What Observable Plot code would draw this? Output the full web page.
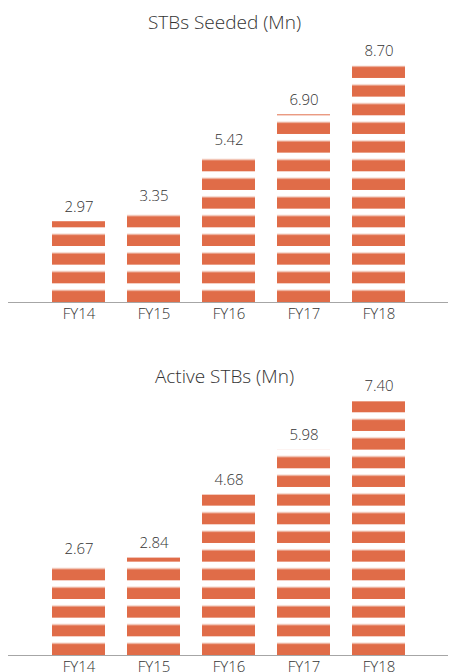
<!DOCTYPE html>
<html>
<head>
<meta charset="utf-8">
<script src="https://cdn.jsdelivr.net/npm/d3@7"></script>
<script src="https://cdn.jsdelivr.net/npm/@observablehq/plot@0.6"></script>
<style>
  html, body { margin: 0; padding: 0; background: #fff; overflow: hidden; }
  #wrap { position: relative; width: 449px; height: 672px; }
  .panel { position: absolute; left: 0; }
  .title { position: absolute; left: 0; width: 449px; text-align: center;
           font-family: "Open Sans", "Noto Sans", sans-serif; font-weight: 350; font-size: 19px; line-height: 20px;
           color: #333333; z-index: 2; }
</style>
</head>
<body>
<div id="wrap"></div>
<script>
const years = ["FY14", "FY15", "FY16", "FY17", "FY18"];
const seeded = [2.97, 3.35, 5.42, 6.90, 8.70];
const active = [2.67, 2.84, 4.68, 5.98, 7.40];
const titles = ["STBs Seeded (Mn)", "Active STBs (Mn)"];

const BAR = "#e06c48";
const TEXT = "#333333";

function panel(values, id, opts) {
  const data = years.map((y, i) => ({year: y, value: values[i]}));
  const chart = Plot.plot({
    width: 449,
    height: opts.height,
    marginLeft: 8,
    marginRight: 1,
    marginTop: opts.marginTop,
    marginBottom: opts.marginBottom,
    style: {fontFamily: "Open Sans, Noto Sans, sans-serif", fontWeight: 350, background: "transparent", overflow: "visible"},
    x: {domain: years, paddingInner: 0.3, paddingOuter: 0.564, label: null},
    y: {domain: [0, opts.ymax], axis: null},
    marks: [
      Plot.barY(data, {x: "year", y: "value", fill: `url(#${id})`}),
      Plot.ruleY([0], {stroke: "#a6a6a6", strokeWidth: 1}),
      Plot.text(data, {x: "year", y: "value", text: d => d.value.toFixed(2), dy: -15,
                       fill: TEXT, fontSize: 15, lineAnchor: "middle"}),
      Plot.axisX({tickSize: 0, tickPadding: 6, fontSize: 15, color: TEXT, label: null})
    ]
  });
  // striped pattern anchored at the baseline
  const base = chart.scale("y").apply(0);
  const period = 18.67, stripe = 11.34;
  const ns = "http://www.w3.org/2000/svg";
  const defs = document.createElementNS(ns, "defs");
  const pat = document.createElementNS(ns, "pattern");
  pat.setAttribute("id", id);
  pat.setAttribute("patternUnits", "userSpaceOnUse");
  pat.setAttribute("x", 0);
  pat.setAttribute("y", base);
  pat.setAttribute("width", 449);
  pat.setAttribute("height", period);
  const add = (y, h, fill) => {
    const r = document.createElementNS(ns, "rect");
    r.setAttribute("x", 0); r.setAttribute("y", y);
    r.setAttribute("width", 449); r.setAttribute("height", h);
    r.setAttribute("fill", fill);
    pat.appendChild(r);
  };
  add(0, period, "#ffffff");
  add(period - stripe - 1, 1, "#f4cfc2");
  add(period - stripe, stripe, BAR);
  defs.appendChild(pat);
  chart.insertBefore(defs, chart.firstChild);
  return chart;
}

const wrap = document.getElementById("wrap");

const p1 = document.createElement("div");
p1.className = "panel"; p1.style.top = "0px";
p1.appendChild(panel(seeded, "stripes1", {height: 335, marginTop: 57.2, marginBottom: 33, ymax: 9}));
wrap.appendChild(p1);

const p2 = document.createElement("div");
p2.className = "panel"; p2.style.top = "335px";
p2.appendChild(panel(active, "stripes2", {height: 337, marginTop: 45.6, marginBottom: 17, ymax: 8}));
wrap.appendChild(p2);

[[titles[0], 12], [titles[1], 366]].forEach(([t, top]) => {
  const d = document.createElement("div");
  d.className = "title"; d.style.top = top + "px"; d.textContent = t;
  wrap.appendChild(d);
});
</script>
</body>
</html>
